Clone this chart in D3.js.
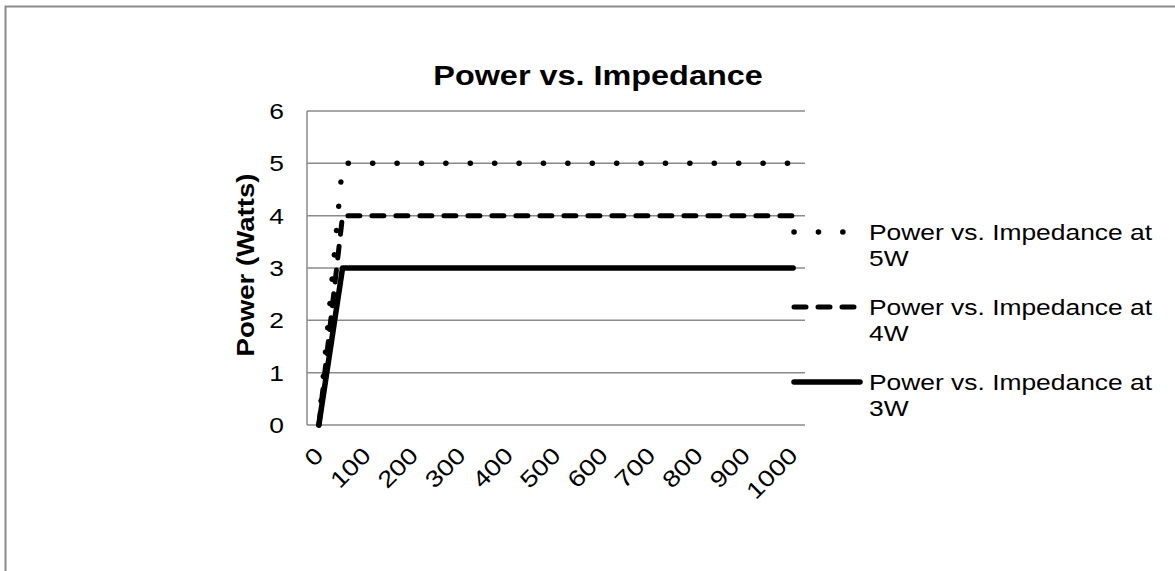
<!DOCTYPE html>
<html>
<head>
<meta charset="utf-8">
<script src="https://cdn.jsdelivr.net/npm/d3@7/dist/d3.min.js"></script>
<style>
  body { margin: 0; background: #fff; }
  text { font-family: "Liberation Sans", Arial, sans-serif; fill: #000; }
</style>
</head>
<body>
<div id="chart"></div>
<script>
// impedance categories (ohms), only every other one gets a label
let impedance = [0, 50, 100, 150, 200, 250, 300, 350, 400, 450, 500,
                 550, 600, 650, 700, 750, 800, 850, 900, 950, 1000];
let xLabels = [0, 100, 200, 300, 400, 500, 600, 700, 800, 900, 1000];
let yTicks = [0, 1, 2, 3, 4, 5, 6];

let power5W = [0, 5, 5, 5, 5, 5, 5, 5, 5, 5, 5, 5, 5, 5, 5, 5, 5, 5, 5, 5, 5];
let power4W = [0, 4, 4, 4, 4, 4, 4, 4, 4, 4, 4, 4, 4, 4, 4, 4, 4, 4, 4, 4, 4];
let power3W = [0, 3, 3, 3, 3, 3, 3, 3, 3, 3, 3, 3, 3, 3, 3, 3, 3, 3, 3, 3, 3];

let seriesNames = ["Power vs. Impedance at 5W", "Power vs. Impedance at 4W", "Power vs. Impedance at 3W"];

let width = 1175, height = 571;
let plot = {left: 307, right: 805, top: 111, bottom: 425};
let stretch = 1.2;   // the text in the original is a bit wide along its baseline

let svg = d3.select("#chart").append("svg")
  .attr("width", width)
  .attr("height", height);

// outer chart frame (runs off the right/bottom of the picture)
svg.append("rect")
  .attr("x", 5.5).attr("y", 6.5)
  .attr("width", 1220).attr("height", 620)
  .attr("fill", "none")
  .attr("stroke", "#8a8a8a")
  .attr("stroke-width", 2);

let x = d3.scalePoint().domain(impedance).range([plot.left, plot.right]).padding(0.5);
let y = d3.scaleLinear().domain([0, 6]).range([plot.bottom, plot.top]);

// gridlines
svg.append("g").selectAll("line")
  .data(yTicks.slice(1))
  .enter().append("line")
  .attr("x1", plot.left).attr("x2", plot.right)
  .attr("y1", d => y(d)).attr("y2", d => y(d))
  .attr("stroke", "#8a8a8a")
  .attr("stroke-width", 1.5);

// axis lines
svg.append("line")
  .attr("x1", plot.left).attr("x2", plot.left)
  .attr("y1", plot.top).attr("y2", plot.bottom)
  .attr("stroke", "#8a8a8a").attr("stroke-width", 1.5);
svg.append("line")
  .attr("x1", plot.left).attr("x2", plot.right)
  .attr("y1", plot.bottom).attr("y2", plot.bottom)
  .attr("stroke", "#8a8a8a").attr("stroke-width", 1.5);

// y tick labels
svg.append("g").selectAll("text")
  .data(yTicks)
  .enter().append("text")
  .attr("transform", d => "translate(" + [284, y(d) + 8] + ") scale(" + stretch + ",1)")
  .attr("text-anchor", "end")
  .style("font-size", "22px")
  .text(d => d);

// x tick labels, rotated
svg.append("g").selectAll("text")
  .data(xLabels)
  .enter().append("text")
  .attr("transform", d => "translate(" + [x(d) + 6, 457] + ") rotate(-45) scale(" + stretch + ",1)")
  .attr("text-anchor", "end")
  .style("font-size", "23px")
  .text(d => d);

// titles
svg.append("text")
  .attr("transform", "translate(598,85) scale(" + stretch + ",1)")
  .attr("text-anchor", "middle")
  .style("font-size", "27px")
  .style("font-weight", "bold")
  .text("Power vs. Impedance");

svg.append("text")
  .attr("transform", "translate(254,265) rotate(-90) scale(" + stretch + ",1)")
  .attr("text-anchor", "middle")
  .style("font-size", "23px")
  .style("font-weight", "bold")
  .text("Power (Watts)");

// series
let styles = [
  {dash: "0.1 24.3", w: 5.5},
  {dash: "12 12", w: 5},
  {dash: null, w: 5.5}
];
let series = [power5W, power4W, power3W].map((vals, i) => ({
  name: seriesNames[i],
  values: vals.map((v, j) => ({x: impedance[j], y: v})),
  style: styles[i]
}));

let line = d3.line().x(d => x(d.x)).y(d => y(d.y));

svg.append("g").selectAll("path")
  .data(series)
  .enter().append("path")
  .attr("d", d => line(d.values))
  .attr("fill", "none")
  .attr("stroke", "#000")
  .attr("stroke-width", d => d.style.w)
  .attr("stroke-linecap", "round")
  .attr("stroke-linejoin", "round")
  .attr("stroke-dasharray", d => d.style.dash);

// legend
let legendRows = [232, 307, 382];
let legend = svg.append("g").selectAll("g")
  .data(series)
  .enter().append("g")
  .attr("transform", (d, i) => "translate(0," + legendRows[i] + ")");

legend.append("line")
  .attr("x1", 794).attr("x2", 860)
  .attr("y1", 0).attr("y2", 0)
  .attr("stroke", "#000")
  .attr("stroke-width", d => d.style.w)
  .attr("stroke-linecap", "round")
  .attr("stroke-dasharray", d => d.style.dash);

legend.append("text")
  .attr("transform", "translate(869,8) scale(" + stretch + ",1)")
  .style("font-size", "22px")
  .text(d => d.name.replace(/ \S+$/, ""));
legend.append("text")
  .attr("transform", "translate(869,34) scale(" + stretch + ",1)")
  .style("font-size", "22px")
  .text(d => d.name.split(" ").pop());
</script>
</body>
</html>
